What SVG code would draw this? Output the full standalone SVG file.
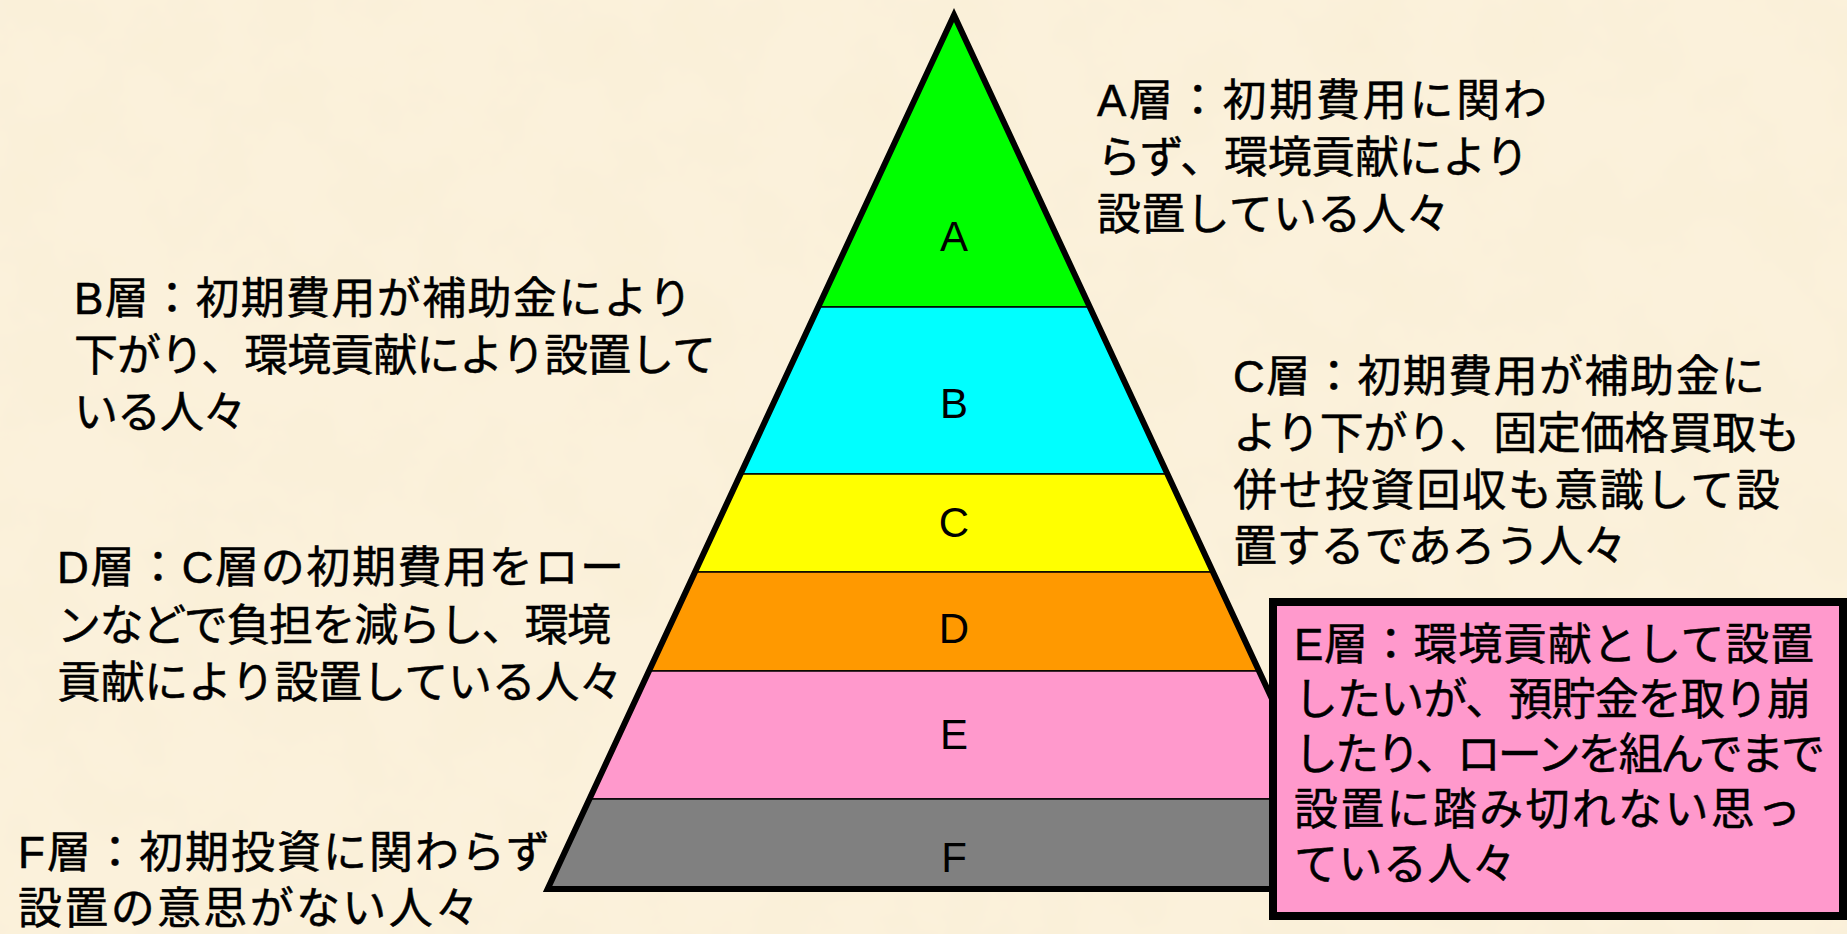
<svg xmlns="http://www.w3.org/2000/svg" width="1847" height="934" viewBox="0 0 1847 934">
<defs>
<filter id="paper" x="0" y="0" width="100%" height="100%">
<feTurbulence type="fractalNoise" baseFrequency="0.012" numOctaves="4" seed="7"/>
<feColorMatrix type="matrix" values="0 0 0 0 0.92  0 0 0 0 0.83  0 0 0 0 0.62  0.55 0 0 0 -0.2"/>
</filter>
<style>
.t{font-family:"Liberation Sans","Noto Sans CJK JP",sans-serif;font-size:44px;fill:#000;stroke:#000;stroke-width:0.5}
.lbl{font-family:"Liberation Sans",Arial,sans-serif;font-size:42px;fill:#000;text-anchor:middle}
.layer{stroke:#000;stroke-width:1.6}
</style>
</defs>
<rect width="1847" height="934" fill="#FBF1DB"/>
<rect width="1847" height="934" filter="url(#paper)"/>

<g id="pyramid">
<g id="layer-A"><polygon class="layer" fill="#00FF00" points="954,15 1089.8,307 818.2,307"/><text class="lbl" x="954" y="251">A</text></g>
<g id="layer-B"><polygon class="layer" fill="#00FFFF" points="818.2,307 1089.8,307 1167.4,474 740.6,474"/><text class="lbl" x="954" y="418">B</text></g>
<g id="layer-C"><polygon class="layer" fill="#FFFF00" points="740.6,474 1167.4,474 1213,572 695,572"/><text class="lbl" x="954" y="537">C</text></g>
<g id="layer-D"><polygon class="layer" fill="#FF9900" points="695,572 1213,572 1259,671 649,671"/><text class="lbl" x="954" y="643">D</text></g>
<g id="layer-E"><polygon class="layer" fill="#FF99CC" points="649,671 1259,671 1318.6,799 589.4,799"/><text class="lbl" x="954" y="749">E</text></g>
<g id="layer-F"><polygon class="layer" fill="#808080" points="589.4,799 1318.6,799 1360.4,889 547.6,889"/><text class="lbl" x="954" y="872">F</text></g>
<polygon id="outline" points="954,15 1360.4,889 547.6,889" fill="none" stroke="#000" stroke-width="6" stroke-linejoin="miter"/>
</g>

<g id="text-A">
<text class="t" x="1097" y="116" textLength="450" lengthAdjust="spacing">A層：初期費用に関わ</text>
<text class="t" x="1097" y="173" textLength="432" lengthAdjust="spacing">らず、環境貢献により</text>
<text class="t" x="1097" y="230" textLength="353" lengthAdjust="spacing">設置している人々</text>
</g>
<g id="text-B">
<text class="t" x="74" y="314" textLength="618" lengthAdjust="spacing">B層：初期費用が補助金により</text>
<text class="t" x="74" y="371" textLength="642" lengthAdjust="spacing">下がり、環境貢献により設置して</text>
<text class="t" x="74" y="428" textLength="173" lengthAdjust="spacing">いる人々</text>
</g>
<g id="text-C">
<text class="t" x="1233" y="392" textLength="532" lengthAdjust="spacing">C層：初期費用が補助金に</text>
<text class="t" x="1233" y="449" textLength="567" lengthAdjust="spacing">より下がり、固定価格買取も</text>
<text class="t" x="1233" y="506" textLength="547" lengthAdjust="spacing">併せ投資回収も意識して設</text>
<text class="t" x="1233" y="562" textLength="394" lengthAdjust="spacing">置するであろう人々</text>
</g>
<g id="text-D">
<text class="t" x="57" y="583" textLength="567" lengthAdjust="spacing">D層：C層の初期費用をロー</text>
<text class="t" x="57" y="641" textLength="554" lengthAdjust="spacing">ンなどで負担を減らし、環境</text>
<text class="t" x="57" y="698" textLength="566" lengthAdjust="spacing">貢献により設置している人々</text>
</g>
<g id="text-F">
<text class="t" x="18" y="868" textLength="532" lengthAdjust="spacing">F層：初期投資に関わらず</text>
<text class="t" x="18" y="924" textLength="461" lengthAdjust="spacing">設置の意思がない人々</text>
</g>
<g id="box-E">
<rect x="1273" y="602" width="570" height="314" fill="#FF99CC" stroke="#000" stroke-width="8"/>
<text class="t" x="1294" y="660" textLength="520" lengthAdjust="spacing">E層：環境貢献として設置</text>
<text class="t" x="1294" y="715" textLength="517" lengthAdjust="spacing">したいが、預貯金を取り崩</text>
<text class="t" x="1294" y="770" textLength="531" lengthAdjust="spacing">したり、ローンを組んでまで</text>
<text class="t" x="1294" y="825" textLength="507" lengthAdjust="spacing">設置に踏み切れない思っ</text>
<text class="t" x="1294" y="880" textLength="222" lengthAdjust="spacing">ている人々</text>
</g>
</svg>
